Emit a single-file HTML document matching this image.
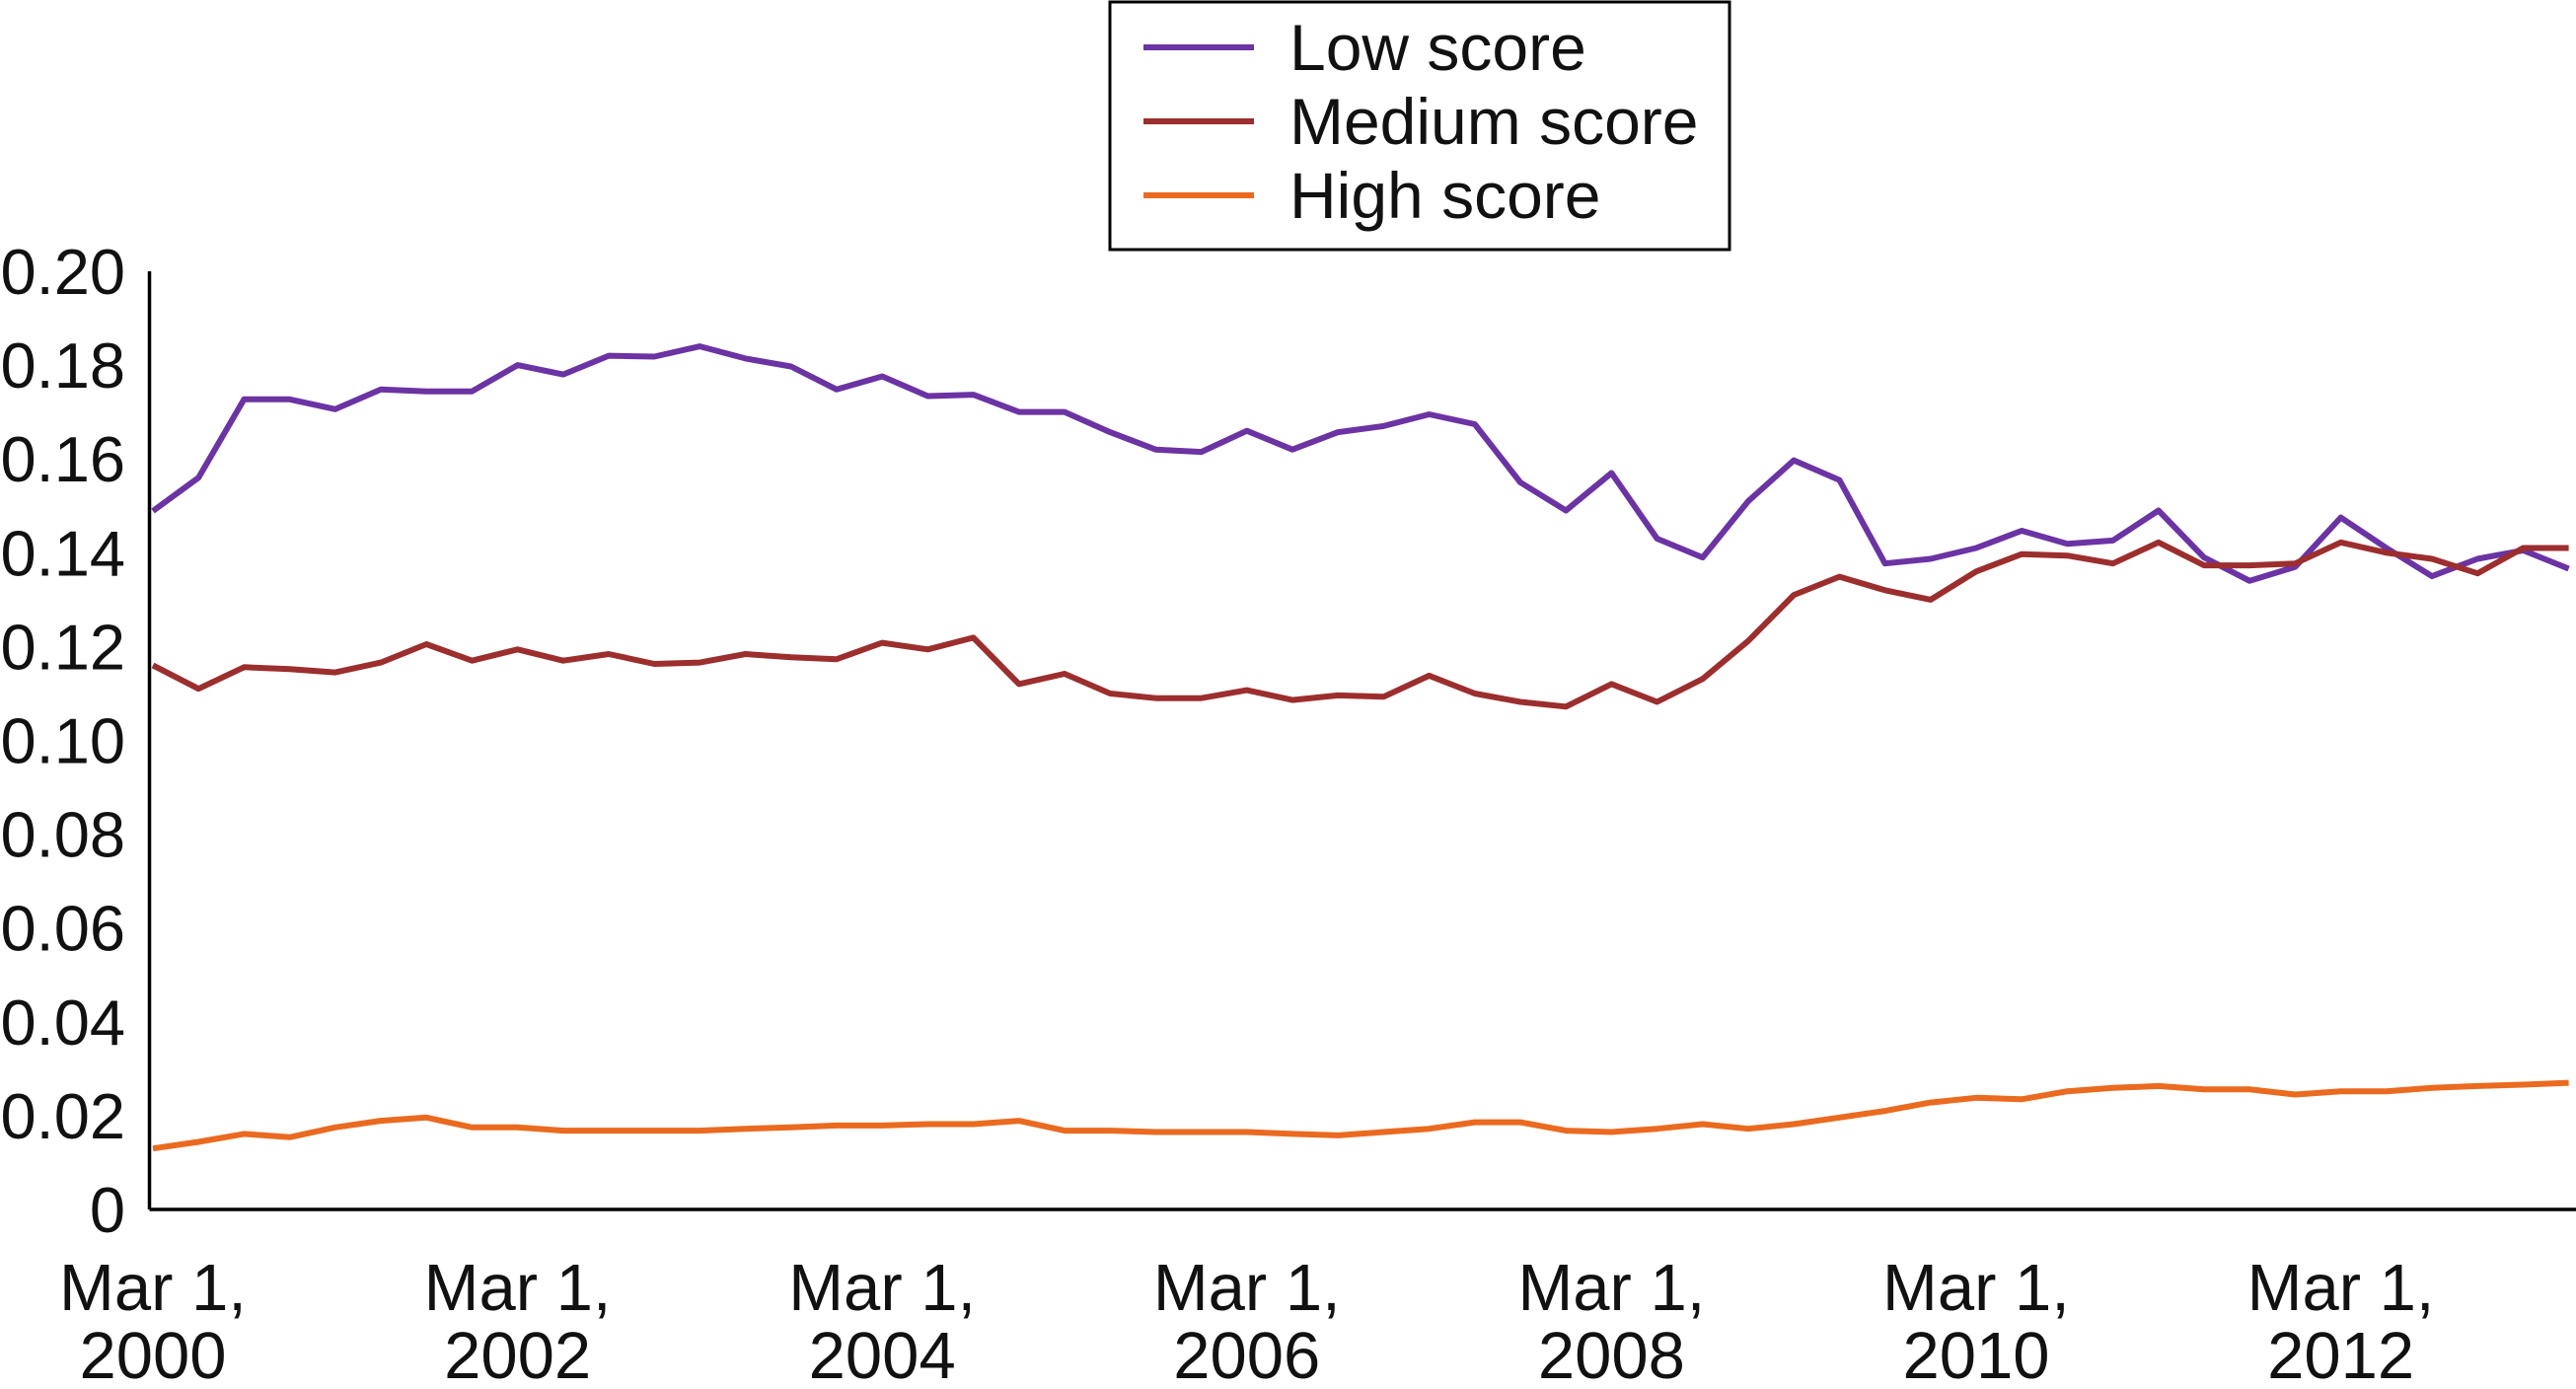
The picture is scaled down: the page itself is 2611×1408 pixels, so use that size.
<!DOCTYPE html>
<html><head><meta charset="utf-8"><style>
html,body{margin:0;padding:0;background:#fff;}
svg{display:block;font-family:"Liberation Sans",Arial,sans-serif;}
</style></head><body>
<svg id="chart" width="2611" height="1408" viewBox="0 0 2611 1408" xmlns="http://www.w3.org/2000/svg">
<g id="axes"></g>
<g id="series"></g>
<g id="legend"></g>
</svg>
<script>
const yTicks = [0,0.02,0.04,0.06,0.08,0.10,0.12,0.14,0.16,0.18,0.20];
const yTickLabels = ["0","0.02","0.04","0.06","0.08","0.10","0.12","0.14","0.16","0.18","0.20"];
const xTickIndex = [0,8,16,24,32,40,48];
const xTickYears = ["2000","2002","2004","2006","2008","2010","2012"];
const lowScore = [0.1489,0.156,0.1727,0.1727,0.1706,0.1748,0.1744,0.1744,0.180,0.178,0.182,0.1818,0.184,0.1814,0.1797,0.1748,0.1776,0.1734,0.1737,0.170,0.170,0.1657,0.162,0.1615,0.166,0.162,0.1657,0.167,0.1695,0.1674,0.155,0.149,0.157,0.143,0.139,0.151,0.1597,0.1555,0.1377,0.1387,0.141,0.1447,0.1419,0.1426,0.149,0.139,0.134,0.137,0.1475,0.141,0.135,0.1387,0.1405,0.1366];
const mediumScore = [0.116,0.111,0.1156,0.1152,0.1145,0.1166,0.1205,0.117,0.1194,0.117,0.1184,0.1163,0.1166,0.1184,0.1177,0.1173,0.1208,0.1194,0.1219,0.112,0.1142,0.110,0.109,0.109,0.1107,0.1086,0.1096,0.1093,0.1138,0.110,0.1082,0.1072,0.112,0.1082,0.1131,0.1212,0.131,0.1349,0.132,0.130,0.136,0.1397,0.1394,0.1377,0.1422,0.1373,0.1373,0.1377,0.1422,0.140,0.1387,0.1356,0.141,0.141];
const highScore = [0.013,0.0144,0.0161,0.0154,0.0175,0.0189,0.0196,0.0175,0.0175,0.0168,0.0168,0.0168,0.0168,0.0172,0.0175,0.0179,0.0179,0.0182,0.0182,0.0189,0.0168,0.0168,0.0165,0.0165,0.0165,0.0161,0.0158,0.0165,0.0172,0.0186,0.0186,0.0168,0.0165,0.0172,0.0182,0.0172,0.0182,0.0196,0.021,0.0228,0.0238,0.0235,0.0252,0.0259,0.0263,0.0256,0.0256,0.0245,0.0252,0.0252,0.0259,0.0263,0.0266,0.0270];
const seriesNames = ["Low score","Medium score","High score"];
const seriesColors = ["#6b33a3","#9c2e2e","#ea6a1f"];

const NS="http://www.w3.org/2000/svg";
const X0=155, DX=46.2, Y0=1226, YTOP=275, AXL=151.5, AXR=2611;
function xs(i){return X0+i*DX;}
function ys(v){return Y0-(v/0.20)*(Y0-YTOP);}
function mk(tag,attrs,parent){const e=document.createElementNS(NS,tag);for(const k in attrs)e.setAttribute(k,attrs[k]);parent.appendChild(e);return e;}

const axes=document.getElementById('axes');
const yAxis=mk('line',{x1:AXL,y1:YTOP,x2:AXL,y2:Y0,stroke:'#000','stroke-width':3.5},axes);


const xAxis=mk('line',{x1:AXL,y1:Y0,x2:AXR,y2:Y0,stroke:'#000','stroke-width':3.5},axes);


yTicks.forEach((v,k)=>{
  const t=mk('text',{x:127,y:ys(v)+23,'text-anchor':'end','font-size':65,fill:'#111'},axes);
  t.textContent=yTickLabels[k];
  
  
});
xTickIndex.forEach((idx,k)=>{
  const t=mk('text',{x:xs(idx),y:1328,'text-anchor':'middle','font-size':67,fill:'#111'},axes);
  t.textContent='Mar 1,';
  
  
  const t2=mk('text',{x:xs(idx),y:1397,'text-anchor':'middle','font-size':67,fill:'#111'},axes);
  t2.textContent=xTickYears[k];
  
  
});

const sg=document.getElementById('series');
[lowScore,mediumScore,highScore].forEach((arr,s)=>{
  const d=arr.map((v,i)=>(i?'L':'M')+xs(i).toFixed(1)+' '+ys(v).toFixed(1)).join(' ');
  const p=mk('path',{d:d,fill:'none',stroke:seriesColors[s],'stroke-width':6,'stroke-linejoin':'round'},sg);
  
  
});

const lg=document.getElementById('legend');
const box=mk('rect',{x:1125,y:2,width:628,height:251,fill:'#fff',stroke:'#000','stroke-width':3},lg);


seriesNames.forEach((n,s)=>{
  const y=48+s*75;
  const l=mk('line',{x1:1159,y1:y,x2:1271,y2:y,stroke:seriesColors[s],'stroke-width':6},lg);
  
  
  const t=mk('text',{x:1307,y:y+23,'font-size':66,fill:'#111'},lg);
  t.textContent=n;
  
  
});
</script>
</body></html>
